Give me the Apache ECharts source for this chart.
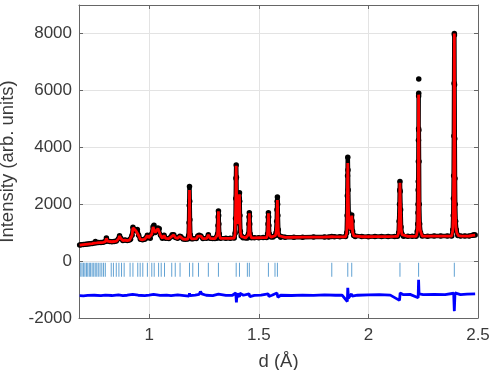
<!DOCTYPE html>
<html>
<head>
<meta charset="utf-8">
<script src="https://cdn.jsdelivr.net/npm/echarts@6/dist/echarts.min.js"></script>
<style>html,body{margin:0;padding:0;background:#fff}#c{width:491px;height:370px}</style>
</head>
<body>
<div id="c"></div>
<script>
// Observed intensity (black dots), [d, I]
var observed = [
[0.683,565],[0.69,572],[0.70,580],[0.71,590],[0.72,600],[0.73,610],[0.74,618],[0.75,640],[0.755,690],[0.76,645],[0.77,650],[0.78,655],[0.79,662],[0.80,685],[0.805,810],[0.81,705],[0.82,690],[0.83,682],[0.84,690],[0.85,705],[0.86,785],[0.865,890],[0.87,805],[0.88,725],[0.89,745],[0.90,722],[0.91,740],[0.915,765],[0.922,910],[0.926,1190],[0.932,1110],[0.94,1065],[0.946,1110],[0.952,905],[0.96,765],[0.97,752],[0.98,770],[0.985,805],[0.992,905],[0.998,825],[1.005,805],[1.012,955],[1.018,1210],[1.022,1260],[1.028,1005],[1.035,1055],[1.04,1160],[1.046,1135],[1.052,905],[1.06,805],[1.068,905],[1.075,805],[1.09,792],[1.10,855],[1.105,925],[1.112,925],[1.12,825],[1.13,805],[1.14,875],[1.145,855],[1.155,772],[1.165,770],
[1.176,780],[1.180,900],[1.182,1350],[1.183,1950],[1.184,2620],[1.185,2100],[1.186,1450],[1.188,920],[1.193,785],
[1.20,782],[1.215,792],[1.222,885],[1.228,905],[1.236,885],[1.245,792],[1.262,800],[1.27,925],[1.278,802],[1.29,790],[1.30,792],
[1.309,800],[1.312,950],[1.314,1250],[1.315,1550],[1.316,1760],[1.317,1600],[1.318,1300],[1.320,950],[1.325,800],
[1.35,800],[1.37,805],
[1.388,815],[1.392,980],[1.394,1500],[1.395,2200],[1.396,2900],[1.397,3380],[1.398,2950],[1.399,2300],[1.400,1800],[1.402,1500],[1.405,1350],[1.408,1500],[1.410,1900],[1.411,2200],[1.412,2400],[1.413,2100],[1.414,1600],[1.416,1050],[1.42,880],[1.428,820],
[1.44,815],[1.449,815],[1.453,950],[1.455,1300],[1.456,1550],[1.457,1700],[1.458,1580],[1.459,1300],[1.461,950],[1.467,820],
[1.48,820],[1.50,822],[1.52,825],
[1.536,830],[1.540,950],[1.542,1300],[1.543,1550],[1.544,1700],[1.545,1550],[1.546,1250],[1.548,950],[1.556,850],[1.565,845],
[1.575,900],[1.579,1000],[1.582,1400],[1.583,1800],[1.584,2100],[1.585,2250],[1.586,2000],[1.587,1600],[1.589,1100],[1.592,900],[1.60,840],
[1.62,838],[1.66,840],[1.70,842],[1.75,845],[1.80,848],[1.82,850],[1.833,868],[1.845,852],[1.87,853],
[1.896,860],[1.901,1000],[1.903,1600],[1.904,2300],[1.905,3000],[1.906,3650],[1.907,3200],[1.908,2500],[1.910,1700],[1.913,1250],[1.917,1150],[1.920,1250],[1.922,1450],[1.924,1620],[1.926,1400],[1.928,1050],[1.933,900],[1.94,862],
[1.97,860],[2.00,858],[2.03,862],[2.06,864],[2.09,866],[2.12,868],
[2.133,872],[2.138,1000],[2.140,1400],[2.142,2000],[2.143,2500],[2.144,2800],[2.145,2450],[2.147,1800],[2.149,1200],[2.153,950],[2.16,875],
[2.18,870],[2.20,872],
[2.218,875],[2.223,1050],[2.225,1300],[2.226,1700],[2.2265,2000],[2.227,2500],[2.2275,2800],[2.228,3500],[2.2285,4250],[2.229,4650],[2.2293,5800],[2.2296,5900],[2.2297,'-'],[2.2298,6400],[2.2299,'-'],[2.230,4600],[2.231,3500],[2.232,2000],[2.234,1300],[2.238,1000],[2.245,880],
[2.27,876],[2.30,878],[2.33,880],[2.36,880],
[2.380,882],[2.385,1100],[2.387,1600],[2.388,2200],[2.389,3000],[2.390,4400],[2.391,6250],[2.392,8000],[2.3925,7950],[2.393,6200],[2.394,4300],[2.395,2900],[2.396,2000],[2.398,1400],[2.401,1100],[2.408,900],
[2.42,885],[2.44,882],[2.46,885],[2.475,905],[2.482,925],[2.487,915]
];

// Calculated profile (red line), [d, I]
var calculated = [
[0.683,560],[0.69,568],[0.70,578],[0.71,588],[0.72,598],[0.73,608],[0.74,615],[0.75,635],[0.755,680],[0.76,640],[0.77,648],[0.78,652],[0.79,660],[0.80,680],[0.805,800],[0.81,700],[0.82,688],[0.83,680],[0.84,688],[0.85,700],[0.86,780],[0.865,880],[0.87,800],[0.88,720],[0.89,740],[0.90,720],[0.91,738],[0.915,760],[0.922,900],[0.926,1170],[0.932,1100],[0.94,1060],[0.946,1100],[0.952,900],[0.96,760],[0.97,750],[0.98,768],[0.985,800],[0.992,900],[0.998,820],[1.005,800],[1.012,950],[1.018,1200],[1.022,1250],[1.028,1000],[1.035,1050],[1.04,1150],[1.046,1130],[1.052,900],[1.06,800],[1.068,900],[1.075,800],[1.09,790],[1.10,850],[1.105,920],[1.112,920],[1.12,820],[1.13,800],[1.14,870],[1.145,850],[1.155,770],[1.165,768],
[1.176,776],[1.180,880],[1.182,1300],[1.184,2500],[1.186,1400],[1.188,900],[1.193,780],
[1.20,780],[1.215,790],[1.222,880],[1.228,900],[1.236,880],[1.245,790],[1.262,798],[1.27,920],[1.278,800],[1.29,788],[1.30,790],
[1.309,796],[1.312,920],[1.314,1200],[1.316,1750],[1.318,1250],[1.320,930],[1.325,798],
[1.35,798],[1.37,802],
[1.388,810],[1.392,960],[1.395,2000],[1.397,3350],[1.399,2200],[1.402,1450],[1.405,1300],[1.408,1450],[1.410,1800],[1.412,2350],[1.414,1500],[1.416,1020],[1.42,870],[1.428,815],
[1.44,812],[1.449,812],[1.453,930],[1.455,1250],[1.457,1680],[1.459,1250],[1.461,930],[1.467,815],
[1.48,818],[1.50,820],[1.52,822],
[1.536,826],[1.540,930],[1.542,1250],[1.544,1680],[1.546,1200],[1.548,930],[1.556,842],[1.565,842],
[1.575,890],[1.579,980],[1.582,1300],[1.585,2150],[1.587,1500],[1.589,1050],[1.592,890],[1.60,836],
[1.62,835],[1.66,838],[1.70,840],[1.75,843],[1.80,846],[1.82,848],[1.833,862],[1.845,850],[1.87,851],
[1.896,856],[1.901,980],[1.903,1500],[1.906,3450],[1.908,2300],[1.910,1600],[1.913,1200],[1.917,1120],[1.920,1200],[1.922,1400],[1.924,1600],[1.926,1350],[1.928,1020],[1.933,890],[1.94,858],
[1.97,856],[2.00,856],[2.03,859],[2.06,861],[2.09,863],[2.12,866],
[2.133,870],[2.138,990],[2.140,1350],[2.142,1900],[2.144,2750],[2.146,2000],[2.149,1150],[2.153,930],[2.16,872],
[2.18,868],[2.20,870],
[2.218,872],[2.223,1030],[2.225,1250],[2.227,2300],[2.229,5850],[2.231,3000],[2.233,1500],[2.236,1100],[2.245,878],
[2.27,874],[2.30,876],[2.33,878],[2.36,878],
[2.380,880],[2.385,1080],[2.388,2000],[2.390,4000],[2.392,8000],[2.394,4000],[2.396,1900],[2.399,1200],[2.403,1000],[2.41,895],
[2.42,882],[2.44,880],[2.46,882],[2.475,900],[2.482,918],[2.487,910]
];

// Difference curve (obs - calc, offset), [d, I]
var difference = [
[0.683,-1215],[0.70,-1220],[0.72,-1208],[0.75,-1200],[0.78,-1215],[0.80,-1195],[0.83,-1210],[0.86,-1190],[0.88,-1215],[0.90,-1200],[0.925,-1170],[0.93,-1230],[0.95,-1200],[0.98,-1215],[1.00,-1195],[1.02,-1170],[1.025,-1230],[1.05,-1205],[1.08,-1195],[1.10,-1210],[1.13,-1190],[1.16,-1210],[1.182,-1230],[1.184,-1130],[1.187,-1215],[1.21,-1195],[1.228,-1170],[1.234,-1070],[1.24,-1150],[1.26,-1200],[1.29,-1212],[1.316,-1160],[1.318,-1230],[1.35,-1205],[1.38,-1200],[1.395,-1120],[1.398,-1450],[1.401,-1140],[1.412,-1260],[1.414,-1130],[1.43,-1200],[1.456,-1150],[1.459,-1250],[1.48,-1205],[1.51,-1195],[1.543,-1150],[1.546,-1240],[1.56,-1200],[1.583,-1120],[1.587,-1270],[1.60,-1200],[1.65,-1210],[1.70,-1195],[1.75,-1205],[1.80,-1190],[1.85,-1200],[1.88,-1195],[1.904,-1420],[1.906,-940],[1.909,-1300],[1.923,-1150],[1.926,-1230],[1.95,-1200],[2.00,-1190],[2.05,-1180],[2.10,-1195],[2.142,-1380],[2.145,-1120],[2.16,-1180],[2.19,-1170],[2.227,-1290],[2.229,-660],[2.231,-1150],[2.25,-1175],[2.30,-1170],[2.35,-1180],[2.389,-1130],[2.392,-1760],[2.395,-1120],[2.42,-1180],[2.45,-1160],[2.487,-1150]
];

// Reflection positions (tick marks)
var reflections = [
0.688,0.694,0.701,0.707,0.714,0.720,0.727,0.733,0.740,0.747,0.754,0.761,0.768,0.776,0.784,0.792,0.800,
0.827,0.837,0.850,0.862,0.874,0.886,0.913,0.926,0.948,0.959,0.971,0.992,1.012,1.023,1.043,1.055,1.070,1.103,1.119,1.141,
1.184,1.199,1.225,1.270,1.316,1.397,1.412,1.448,1.457,1.544,1.574,1.585,1.833,1.906,1.924,2.144,2.229,2.392
];
var reflectionLevel = -300;

var xTicks = [1, 1.5, 2, 2.5];

var font = "'Liberation Sans', Arial, Helvetica, sans-serif";
var textColor = '#3a3a3a';
var lineColor = '#666';

var chart = echarts.init(document.getElementById('c'), null, {renderer: 'canvas'});
chart.setOption({
  animation: false,
  grid: {left: 79, right: 13, top: 5, bottom: 52, containLabel: false, outerBoundsMode: 'none'},
  xAxis: [{
    type: 'value', min: 0.68, max: 2.5,
    name: 'd (Å)', nameLocation: 'middle', nameGap: 34,
    nameTextStyle: {fontFamily: font, fontSize: 18.5, color: textColor},
    axisLine: {show: true, onZero: false, lineStyle: {color: lineColor, width: 1}},
    axisTick: {show: true, inside: true, length: 4, customValues: xTicks, lineStyle: {color: lineColor}},
    axisLabel: {customValues: xTicks, fontFamily: font, fontSize: 17, color: textColor, margin: 9,
      formatter: function (v) { return String(v); }},
    splitLine: {show: true, lineStyle: {color: '#e3e3e3', width: 1}}
  }, {
    type: 'value', min: 0.68, max: 2.5, position: 'top',
    axisLine: {show: true, onZero: false, lineStyle: {color: lineColor, width: 1}},
    axisTick: {show: true, inside: true, length: 4, customValues: xTicks, lineStyle: {color: lineColor}},
    axisLabel: {show: false},
    splitLine: {show: false}
  }],
  yAxis: [{
    type: 'value', min: -2000, max: 9000, interval: 2000,
    name: 'Intensity (arb. units)', nameLocation: 'middle', nameGap: 50,
    nameTextStyle: {fontFamily: font, fontSize: 18.5, color: textColor},
    axisLine: {show: true, onZero: false, lineStyle: {color: lineColor, width: 1}},
    axisTick: {show: true, inside: true, length: 4, lineStyle: {color: lineColor}},
    axisLabel: {fontFamily: font, fontSize: 17, color: textColor, margin: 7, showMaxLabel: false,
      formatter: function (v) { return String(v); }},
    splitLine: {show: true, lineStyle: {color: '#e3e3e3', width: 1}}
  }, {
    type: 'value', min: -2000, max: 9000, interval: 2000, position: 'right',
    axisLine: {show: true, onZero: false, lineStyle: {color: lineColor, width: 1}},
    axisTick: {show: true, inside: true, length: 4, lineStyle: {color: lineColor}},
    axisLabel: {show: false},
    splitLine: {show: false}
  }],
  series: [
    {
      name: 'Observed', type: 'line', data: observed,
      xAxisIndex: 0, yAxisIndex: 0,
      showSymbol: true, symbol: 'circle', symbolSize: 5.5,
      itemStyle: {color: '#000'},
      lineStyle: {color: '#000', width: 4.5},
      connectNulls: false, z: 2
    },
    {
      name: 'Calculated', type: 'line', data: calculated,
      showSymbol: false, symbol: 'none',
      lineStyle: {color: '#ff0000', width: 2.8},
      z: 3
    },
    {
      name: 'Reflections', type: 'scatter',
      data: reflections.map(function (d) { return [d, reflectionLevel]; }),
      symbol: 'rect', symbolSize: [1, 14],
      itemStyle: {color: '#3b8bc8'},
      z: 2
    },
    {
      name: 'Difference', type: 'line', data: difference,
      showSymbol: false, symbol: 'none',
      lineStyle: {color: '#0000ff', width: 2.8},
      z: 3
    }
  ]
});
</script>
</body>
</html>
